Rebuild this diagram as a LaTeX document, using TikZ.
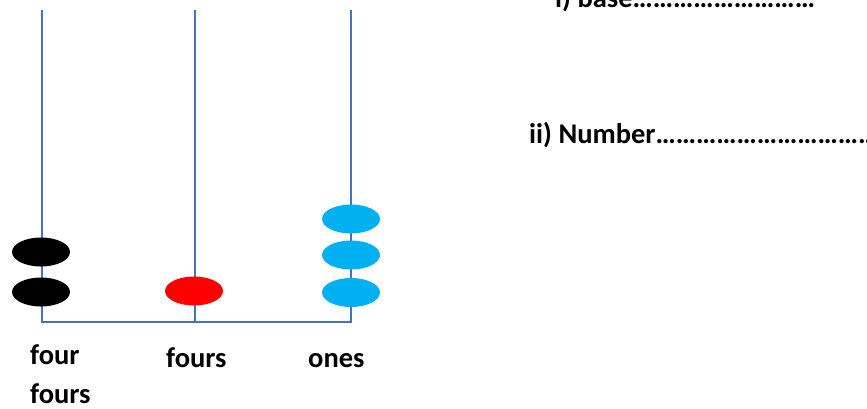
\documentclass[tikz,border=0pt]{standalone}
\usepackage{fontspec}
\setmainfont{Carlito}
\definecolor{rod}{RGB}{68,114,196}
\definecolor{skyb}{RGB}{0,176,240}
\tikzset{
  rodline/.style={draw=rod, line width=1.8pt},
  bead/.style={ellipse, minimum width=58pt, minimum height=29pt, inner sep=0pt},
  lbl/.style={anchor=base west, inner sep=0pt, font=\fontsize{28.5}{30}\selectfont\bfseries}
}
\usetikzlibrary{shapes.geometric}
\begin{document}
\begin{tikzpicture}[x=1pt,y=-1pt]
\useasboundingbox (0,0) rectangle (867,408);
\clip (0,0) rectangle (867,408);
\coordinate (t1) at (42,10);
\coordinate (t2) at (195,10);
\coordinate (t3) at (351,10);
\coordinate (b1) at (42,322);
\coordinate (b2) at (195,322);
\coordinate (b3) at (351,322);
\draw[rodline] (t1) -- (b1) -- (b3) -- (t3);
\draw[rodline] (t2) -- (b2);
\node[bead, fill=black] (k1) at (41,252) {};
\node[bead, fill=black] (k2) at (41,292) {};
\node[bead, fill=red] (r1) at (194,291) {};
\node[bead, fill=skyb] (s1) at (351,219) {};
\node[bead, fill=skyb] (s2) at (351,255) {};
\node[bead, fill=skyb] (s3) at (351,292.5) {};
\node[lbl] (l1) at (30,364) {four};
\node[lbl] (l1b) at (30,403) {fours};
\node[lbl] (l2) at (166,367) {fours};
\node[lbl] (l3) at (308,367) {ones};
\node[lbl] (q1) at (555,7.5) {i) base………………………};
\node[lbl] (q2) at (529,143) {ii) Number……………………………};
\end{tikzpicture}
\end{document}
